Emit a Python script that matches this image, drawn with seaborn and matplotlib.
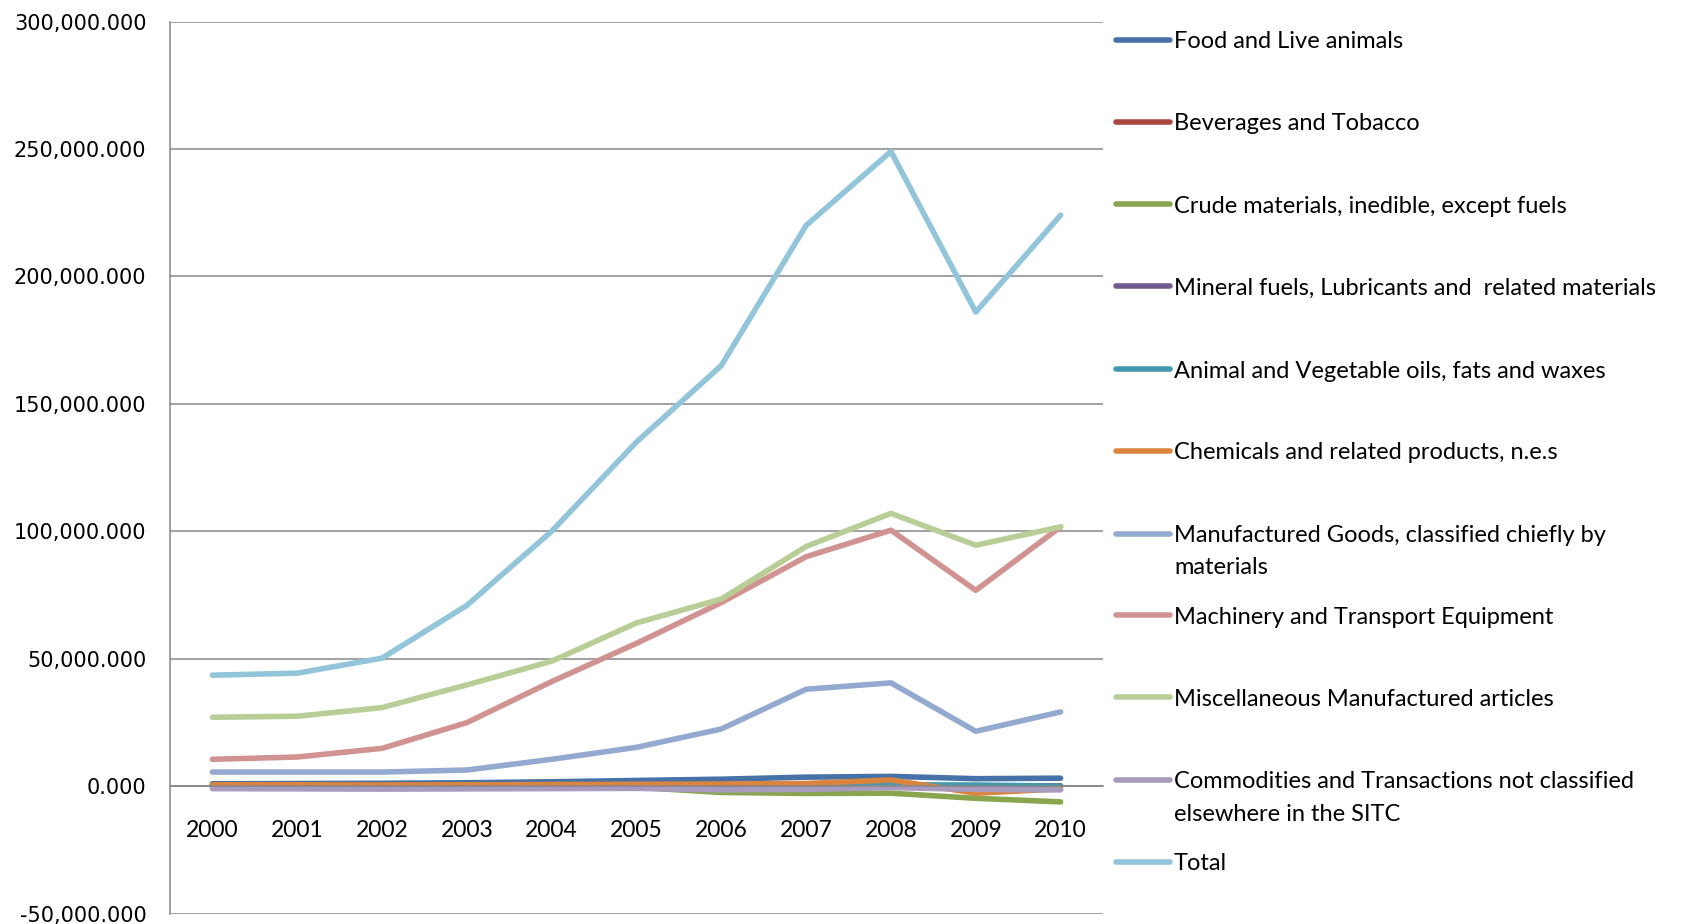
import numpy as np
import pandas as pd
import matplotlib
matplotlib.use("Agg")
import matplotlib.pyplot as plt
from matplotlib.lines import Line2D
from matplotlib.ticker import FuncFormatter, FixedLocator
import seaborn as sns

years = ["2000", "2001", "2002", "2003", "2004", "2005", "2006", "2007", "2008", "2009", "2010"]

food = [900, 1000, 1100, 1300, 1700, 2200, 2700, 3500, 3800, 2900, 3100]
beverages = [200, 200, 200, 200, 200, 200, 200, 200, 200, 100, 100]
crude = [-300, -300, -400, -400, -400, -500, -2500, -2900, -2800, -4800, -6200]
mineral = [300, 300, 300, 300, 300, 300, 300, 300, 300, 0, -200]
animal = [100, 100, 0, 0, 0, 0, -500, -700, 500, 400, 0]
chemicals = [500, 500, 400, 500, 600, 700, 800, 1000, 2400, -2800, -1100]
manufactured = [5500, 5500, 5500, 6300, 10500, 15200, 22400, 38000, 40500, 21500, 29100]
machinery = [10500, 11400, 14800, 24900, 41000, 56000, 72000, 90000, 100400, 76800, 101700]
misc = [27000, 27400, 30800, 39700, 49000, 64000, 73400, 94000, 107000, 94500, 101700]
commodities = [-1000, -1100, -1200, -1100, -1000, -900, -1500, -1300, -600, -1300, -1500]
total = [43500, 44300, 50200, 70900, 100000, 135000, 165000, 220000, 249000, 186000, 224000]

series_names = [
    "Food and Live animals",
    "Beverages and Tobacco",
    "Crude materials, inedible, except fuels",
    "Mineral fuels, Lubricants and  related materials",
    "Animal and Vegetable oils, fats and waxes",
    "Chemicals and related products, n.e.s",
    "Manufactured Goods, classified chiefly by\nmaterials",
    "Machinery and Transport Equipment",
    "Miscellaneous Manufactured articles",
    "Commodities and Transactions not classified\nelsewhere in the SITC",
    "Total",
]
series_values = [food, beverages, crude, mineral, animal, chemicals,
                 manufactured, machinery, misc, commodities, total]
colors = ["#4672A8", "#AA4643", "#89A54E", "#71588F", "#4198AF", "#DB843D",
          "#93A9CF", "#D19392", "#B9CD96", "#A99BBD", "#92C5D9"]

rows = []
for name, vals in zip(series_names, series_values):
    for i, v in enumerate(vals):
        rows.append({"x": i, "value": v, "series": name})
df = pd.DataFrame(rows)

sns.set_style("white")
plt.rcParams["font.family"] = ["Lato", "DejaVu Sans"]

W, H = 1687, 924
fig = plt.figure(figsize=(W / 100, H / 100), dpi=100)
left, right, top, bottom = 170, 1103, 21.5, 913.5
ax = fig.add_axes([left / W, 1 - bottom / H, (right - left) / W, (bottom - top) / H])

sns.lineplot(data=df, x="x", y="value", hue="series", hue_order=series_names,
             palette=colors, linewidth=4.0, legend=False, ax=ax, sort=False)

ax.set_xlim(-0.5, 10.5)
ax.set_ylim(-50000, 300000)
ax.set_xlabel("")
ax.set_ylabel("")

grid_c = "#868686"
ax.set_yticks(np.arange(-50000, 300001, 50000))
ax.yaxis.set_major_formatter(FuncFormatter(lambda v, p: "{:,.3f}".format(v)))
ax.yaxis.grid(True, color=grid_c, linewidth=1.1)
ax.set_axisbelow(True)
ax.tick_params(axis="y", direction="out", length=5, width=1.1, color=grid_c,
               pad=12, labelsize=15, labelcolor="black")
for lab in ax.get_yticklabels():
    lab.set_fontfamily("DejaVu Sans")

ax.xaxis.set_major_locator(FixedLocator(range(len(years))))
ax.set_xticklabels(years)
ax.xaxis.set_minor_locator(FixedLocator(np.arange(-0.5, 10.6, 1.0)))
ax.tick_params(axis="x", which="major", length=0, pad=24.5, labelsize=16.5, labelcolor="black")
ax.tick_params(axis="x", which="minor", direction="out", length=5, width=1.1, color=grid_c)

for s in ["top", "right"]:
    ax.spines[s].set_visible(False)
ax.spines["left"].set_color(grid_c)
ax.spines["left"].set_linewidth(1.1)
ax.spines["bottom"].set_position(("data", 0))
ax.spines["bottom"].set_color(grid_c)
ax.spines["bottom"].set_linewidth(1.1)

# legend (drawn manually to mimic spreadsheet layout)
entry_y = [39.8, 121.6, 204.4, 286.2, 369.0, 450.8, 533.6, 615.4, 697.2, 780.0, 861.8]
line_gap = 32.3
for name, c, y in zip(series_names, colors, entry_y):
    fig.add_artist(Line2D([1116 / W, 1170 / W], [1 - y / H, 1 - y / H],
                          transform=fig.transFigure, color=c, linewidth=4.0,
                          solid_capstyle="round"))
    for k, part in enumerate(name.split("\n")):
        fig.text(1174 / W, 1 - (y + 2 + k * line_gap) / H, part, fontsize=17,
                 va="center", ha="left", color="black")

fig.savefig("out.png", dpi=100, facecolor="white")
